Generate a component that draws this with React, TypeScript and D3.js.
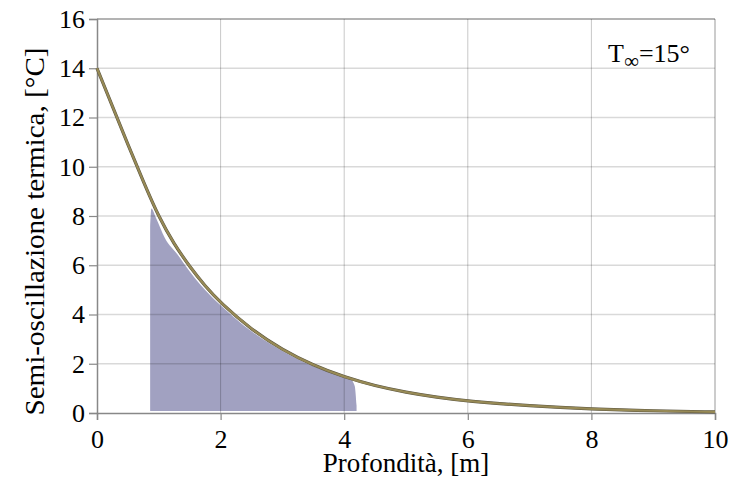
import * as d3 from 'd3';
import { useEffect, useRef } from 'react';

// curva: semi-oscillazione termica vs profondità
const depth = [0, 0.25, 0.5, 0.75, 1, 1.25, 1.5, 1.75, 2, 2.5, 3, 3.5, 4, 4.5, 5, 5.5, 6, 7, 8, 9, 10];
const amplitude = [14, 12.45, 10.9, 9.4, 7.95, 6.85, 5.94, 5.15, 4.47, 3.38, 2.56, 1.93, 1.46, 1.1, 0.84, 0.64, 0.48, 0.29, 0.16, 0.085, 0.045];

// area ombreggiata
const shadeX = [0.86, 0.88, 0.95, 1.1, 1.3, 1.5, 1.75, 2, 2.5, 3, 3.5, 3.9, 4.1, 4.17, 4.2];
const shadeTop = [7.6, 8.3, 7.95, 7.1, 6.45, 5.75, 5.0, 4.38, 3.32, 2.52, 1.9, 1.55, 1.38, 1.1, 0.3];
const shadeBottom = 0.08;

const xTicks = [0, 2, 4, 6, 8, 10];
const yTicks = [0, 2, 4, 6, 8, 10, 12, 14, 16];

const App = () => {
    const svgRef = useRef<SVGSVGElement>(null);

    useEffect(() => {
        const width = 732;
        const height = 486;
        const margin = { left: 97, right: 17, top: 19, bottom: 73 };
        const font = 'Liberation Serif';

        // niente margini / scrollbar
        document.body.style.margin = '0';
        document.documentElement.style.overflow = 'hidden';

        const svg = d3.select(svgRef.current);
        svg.selectAll('*').remove();
        svg.attr('width', width).attr('height', height);

        const x = d3.scaleLinear().domain([0, 10]).range([margin.left, width - margin.right]);
        const y = d3.scaleLinear().domain([0, 16]).range([height - margin.bottom, margin.top]);

        // area
        const area = d3
            .area<number>()
            .x((d, i) => x(shadeX[i]))
            .y0(() => y(shadeBottom))
            .y1((d) => y(d))
            .curve(d3.curveMonotoneX);
        svg.append('path').attr('d', area(shadeTop)).attr('fill', '#6e6ea0').attr('fill-opacity', 0.65);

        // griglia
        svg.append('g')
            .selectAll('line')
            .data(yTicks.slice(1))
            .enter()
            .append('line')
            .attr('x1', x(0))
            .attr('x2', x(10))
            .attr('y1', (d) => y(d))
            .attr('y2', (d) => y(d))
            .attr('stroke', '#000')
            .attr('stroke-opacity', (d) => (d === 16 ? 0.4 : 0.15))
            .attr('stroke-width', 1.5);
        svg.append('g')
            .selectAll('line')
            .data(xTicks.slice(1))
            .enter()
            .append('line')
            .attr('x1', (d) => x(d))
            .attr('x2', (d) => x(d))
            .attr('y1', y(0))
            .attr('y2', y(16))
            .attr('stroke', '#000')
            .attr('stroke-opacity', (d) => (d === 10 ? 0.4 : 0.22))
            .attr('stroke-width', 1);

        // assi
        const yAxis = svg
            .append('g')
            .attr('transform', `translate(${x(0)},0)`)
            .call(d3.axisLeft(y).tickValues(yTicks).tickSize(8).tickPadding(4));
        const xAxis = svg
            .append('g')
            .attr('transform', `translate(0,${y(0)})`)
            .call(d3.axisBottom(x).tickValues(xTicks).tickSize(7).tickPadding(10));
        [xAxis, yAxis].forEach((g) => {
            g.attr('font-family', font).attr('font-size', 26);
            g.select('.domain').attr('stroke', '#888').attr('stroke-width', 1.5);
            g.selectAll('.tick line').attr('stroke', '#888').attr('stroke-width', 1.2);
            g.selectAll('.tick text').attr('fill', '#000');
        });

        // curva
        const line = d3
            .line<number>()
            .x((d) => x(d))
            .y((d, i) => y(amplitude[i]))
            .curve(d3.curveBasis);
        svg.append('path').attr('d', line(depth)).attr('fill', 'none').attr('stroke', '#5a5440').attr('stroke-width', 3.2);
        svg.append('path').attr('d', line(depth)).attr('fill', 'none').attr('stroke', '#978a56').attr('stroke-width', 2.2);

        // titoli
        svg.append('text')
            .attr('x', 406)
            .attr('y', 472)
            .attr('text-anchor', 'middle')
            .attr('font-family', font)
            .attr('font-size', 27)
            .text('Profondità, [m]');
        svg.append('text')
            .attr('transform', 'translate(44,231.5) rotate(-90)')
            .attr('text-anchor', 'middle')
            .attr('font-family', font)
            .attr('font-size', 28)
            .attr('textLength', 368)
            .attr('lengthAdjust', 'spacingAndGlyphs')
            .text('Semi-oscillazione termica, [°C]');

        const lab = svg
            .append('text')
            .attr('x', 608)
            .attr('y', 62)
            .attr('font-family', font)
            .attr('font-size', 26);
        lab.append('tspan').text('T');
        lab.append('tspan').attr('dy', 6).attr('font-size', 21).text('∞');
        lab.append('tspan').attr('dy', -6).text('=15°');
    }, []);

    return <svg ref={svgRef} style={{ display: 'block' }} />;
};

export default App;
